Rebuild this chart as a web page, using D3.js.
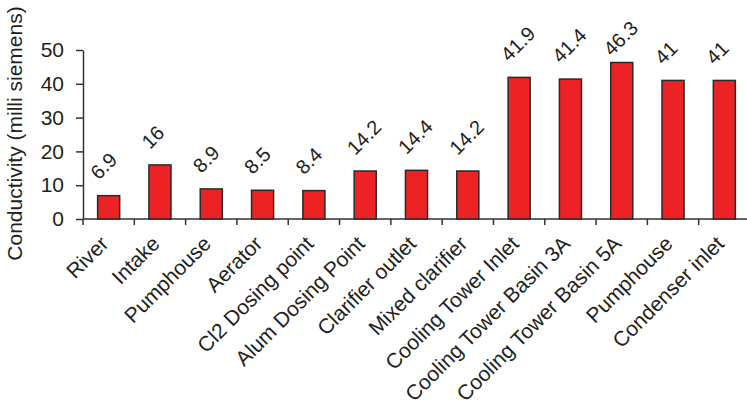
<!DOCTYPE html>
<html>
<head>
<meta charset="utf-8">
<script src="https://cdn.jsdelivr.net/npm/d3@7/dist/d3.min.js"></script>
<style>
  html, body { margin: 0; padding: 0; background: #fff; }
  svg { display: block; }
  text { font-family: "Liberation Sans", Arial, Helvetica, sans-serif; fill: #231f20; }
</style>
</head>
<body>
<svg id="chart" width="747" height="408"></svg>
<script>
// Sampling locations along the water circuit
const locations = [
  "River", "Intake", "Pumphouse", "Aerator", "Cl2 Dosing point",
  "Alum Dosing Point", "Clarifier outlet", "Mixed clarifier",
  "Cooling Tower Inlet", "Cooling Tower Basin 3A", "Cooling Tower Basin 5A",
  "Pumphouse", "Condenser inlet"
];
// Conductivity readings (milli siemens)
const conductivity = [6.9, 16, 8.9, 8.5, 8.4, 14.2, 14.4, 14.2, 41.9, 41.4, 46.3, 41, 41];
const yTicks = [0, 10, 20, 30, 40, 50];
const yTitle = "Conductivity (milli siemens)";

const svg = d3.select("#chart");
const plotLeft = 83, plotRight = 750, plotTop = 50, plotBottom = 219;

// indices keep the two "Pumphouse" entries distinct
const x = d3.scaleBand()
  .domain(locations.map((d, i) => i))
  .range([plotLeft, plotRight])
  .paddingInner(0.57)
  .paddingOuter(0.285);

const y = d3.scaleLinear().domain([0, 50]).range([plotBottom, plotTop]);

const axisColor = "#333";
const textColor = "#231f20";

// y axis
const yAxis = svg.append("g")
  .attr("transform", `translate(${plotLeft},0)`)
  .call(d3.axisLeft(y).tickValues(yTicks).tickSize(7).tickSizeOuter(0).tickPadding(12).tickFormat(d3.format("d")));
yAxis.select(".domain").attr("stroke", axisColor).attr("stroke-width", 1.5);
yAxis.selectAll(".tick line").attr("stroke", axisColor).attr("stroke-width", 1.5);
yAxis.selectAll(".tick text")
  .attr("font-size", 21)
  .style("font-family", "Liberation Sans, Arial, sans-serif")
  .attr("fill", textColor);

// x axis: ticks sit on the band boundaries
const step = x.step();
const boundaries = d3.range(locations.length).map(i => plotLeft + i * step);
const xAxisG = svg.append("g");
xAxisG.append("line")
  .attr("x1", plotLeft).attr("x2", plotRight)
  .attr("y1", plotBottom).attr("y2", plotBottom)
  .attr("stroke", axisColor).attr("stroke-width", 1.5);
xAxisG.selectAll("line.tick")
  .data(boundaries)
  .join("line")
  .attr("class", "tick")
  .attr("x1", d => d).attr("x2", d => d)
  .attr("y1", plotBottom).attr("y2", plotBottom + 6)
  .attr("stroke", axisColor).attr("stroke-width", 1.5);

// category labels, rotated and right-aligned under each bar
svg.append("g").selectAll("text")
  .data(locations)
  .join("text")
  .attr("transform", (d, i) => `translate(${x(i) + x.bandwidth() / 2 + 1},${plotBottom + 26}) rotate(-45)`)
  .attr("text-anchor", "end")
  .attr("font-size", 21)
  .text(d => d);

// bars
svg.append("g").selectAll("rect")
  .data(conductivity)
  .join("rect")
  .attr("x", (d, i) => x(i))
  .attr("y", d => y(d))
  .attr("width", x.bandwidth())
  .attr("height", d => y(0) - y(d))
  .attr("fill", "#ed2224")
  .attr("stroke", "#2a2a2a")
  .attr("stroke-width", 1.5);

// value labels above bars, kept below the top of the frame
svg.append("g").selectAll("text")
  .data(conductivity)
  .join("text")
  .attr("transform", (d, i) => {
    const ly = Math.max(y(d) - 15, plotTop + 7);
    return `translate(${x(i) + x.bandwidth() / 2 - 10},${ly}) rotate(-45)`;
  })
  .attr("text-anchor", "start")
  .attr("font-size", 20)
  .text(d => d);

// y axis title
svg.append("text")
  .attr("transform", `translate(21.5,${(5 + 262) / 2}) rotate(-90)`)
  .attr("text-anchor", "middle")
  .attr("font-size", 21)
  .text(yTitle);
</script>
</body>
</html>
